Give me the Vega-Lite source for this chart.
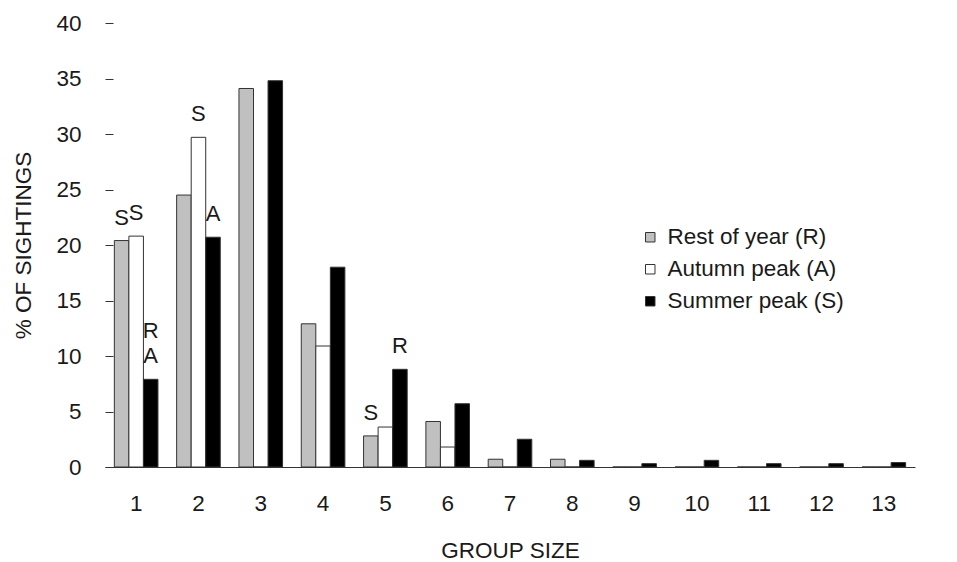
{
  "$schema": "https://vega.github.io/schema/vega-lite/v6.json",
  "autosize": {"type": "none"},
  "padding": {"left": 105, "top": 23, "right": 42, "bottom": 95},
  "width": 810,
  "height": 444,
  "background": "white",
  "config": {
    "view": {"stroke": null},
    "font": "Liberation Sans",
    "axis": {"grid": false, "labelFont": "Liberation Sans", "titleFont": "Liberation Sans", "labelColor": "#1a1a1a", "titleColor": "#1a1a1a", "titleFontWeight": "normal", "labelFontSize": 22.5, "titleFontSize": 22.5},
    "legend": {"labelFont": "Liberation Sans", "labelFontSize": 22.5, "labelColor": "#1a1a1a", "labelLimit": 0}
  },
  "datasets": {
    "bars": [
      {"group": "1", "series": "Rest of year (R)", "pct": 20.4},
      {"group": "1", "series": "Autumn peak (A)", "pct": 20.8},
      {"group": "1", "series": "Summer peak (S)", "pct": 7.9},
      {"group": "2", "series": "Rest of year (R)", "pct": 24.5},
      {"group": "2", "series": "Autumn peak (A)", "pct": 29.7},
      {"group": "2", "series": "Summer peak (S)", "pct": 20.7},
      {"group": "3", "series": "Rest of year (R)", "pct": 34.1},
      {"group": "3", "series": "Autumn peak (A)", "pct": 0},
      {"group": "3", "series": "Summer peak (S)", "pct": 34.8},
      {"group": "4", "series": "Rest of year (R)", "pct": 12.9},
      {"group": "4", "series": "Autumn peak (A)", "pct": 10.9},
      {"group": "4", "series": "Summer peak (S)", "pct": 18.0},
      {"group": "5", "series": "Rest of year (R)", "pct": 2.8},
      {"group": "5", "series": "Autumn peak (A)", "pct": 3.6},
      {"group": "5", "series": "Summer peak (S)", "pct": 8.8},
      {"group": "6", "series": "Rest of year (R)", "pct": 4.1},
      {"group": "6", "series": "Autumn peak (A)", "pct": 1.8},
      {"group": "6", "series": "Summer peak (S)", "pct": 5.7},
      {"group": "7", "series": "Rest of year (R)", "pct": 0.7},
      {"group": "7", "series": "Autumn peak (A)", "pct": 0},
      {"group": "7", "series": "Summer peak (S)", "pct": 2.5},
      {"group": "8", "series": "Rest of year (R)", "pct": 0.7},
      {"group": "8", "series": "Autumn peak (A)", "pct": 0},
      {"group": "8", "series": "Summer peak (S)", "pct": 0.6},
      {"group": "9", "series": "Rest of year (R)", "pct": 0},
      {"group": "9", "series": "Autumn peak (A)", "pct": 0},
      {"group": "9", "series": "Summer peak (S)", "pct": 0.3},
      {"group": "10", "series": "Rest of year (R)", "pct": 0},
      {"group": "10", "series": "Autumn peak (A)", "pct": 0},
      {"group": "10", "series": "Summer peak (S)", "pct": 0.6},
      {"group": "11", "series": "Rest of year (R)", "pct": 0},
      {"group": "11", "series": "Autumn peak (A)", "pct": 0},
      {"group": "11", "series": "Summer peak (S)", "pct": 0.3},
      {"group": "12", "series": "Rest of year (R)", "pct": 0},
      {"group": "12", "series": "Autumn peak (A)", "pct": 0},
      {"group": "12", "series": "Summer peak (S)", "pct": 0.3},
      {"group": "13", "series": "Rest of year (R)", "pct": 0},
      {"group": "13", "series": "Autumn peak (A)", "pct": 0},
      {"group": "13", "series": "Summer peak (S)", "pct": 0.4}
    ],
    "notes": [
      {"group": "1", "series": "Rest of year (R)", "pct": 20.4, "label": "S", "kind": "single"},
      {"group": "1", "series": "Autumn peak (A)", "pct": 20.8, "label": "S", "kind": "single"},
      {"group": "1", "series": "Summer peak (S)", "pct": 7.9, "label": "R\nA", "kind": "double"},
      {"group": "2", "series": "Autumn peak (A)", "pct": 29.7, "label": "S", "kind": "single"},
      {"group": "2", "series": "Summer peak (S)", "pct": 20.7, "label": "A", "kind": "single"},
      {"group": "5", "series": "Rest of year (R)", "pct": 2.8, "label": "S", "kind": "single"},
      {"group": "5", "series": "Summer peak (S)", "pct": 8.8, "label": "R", "kind": "single"}
    ]
  },
  "encoding": {
    "x": {
      "field": "group", "type": "nominal",
      "scale": {"domain": ["1","2","3","4","5","6","7","8","9","10","11","12","13"], "paddingInner": 0.3, "paddingOuter": 0.15},
      "axis": {"title": "GROUP SIZE", "labelAngle": 0, "ticks": false, "tickSize": 0, "labelPadding": 25, "titlePadding": 25, "domainColor": "#333", "domainWidth": 1.2}
    },
    "xOffset": {
      "field": "series", "type": "nominal",
      "scale": {"domain": ["Rest of year (R)", "Autumn peak (A)", "Summer peak (S)"], "paddingInner": 0, "paddingOuter": 0}
    },
    "y": {
      "field": "pct", "type": "quantitative",
      "scale": {"domain": [0, 40], "nice": false},
      "axis": {"title": "% OF SIGHTINGS", "values": [0,5,10,15,20,25,30,35,40], "domain": false, "tickSize": 8, "offset": -8, "tickColor": "#333", "labelPadding": 24, "titlePadding": 20}
    }
  },
  "layer": [
    {
      "data": {"name": "bars"},
      "mark": {"type": "bar", "stroke": "#333", "strokeWidth": 1},
      "encoding": {
        "color": {
          "field": "series", "type": "nominal",
          "scale": {"domain": ["Rest of year (R)", "Autumn peak (A)", "Summer peak (S)"], "range": ["#c0c0c0", "#ffffff", "#000000"]},
          "legend": {"title": null, "orient": "none", "legendX": 534, "legendY": 203, "symbolType": "square", "symbolSize": 90, "symbolStrokeColor": "#333", "symbolStrokeWidth": 1, "rowPadding": 9, "labelOffset": 6}
        }
      }
    },
    {
      "data": {"name": "notes"},
      "transform": [{"filter": "datum.kind === 'single'"}],
      "mark": {"type": "text", "fontSize": 22, "color": "#1a1a1a", "baseline": "middle", "dy": -23},
      "encoding": {"text": {"field": "label"}}
    },
    {
      "data": {"name": "notes"},
      "transform": [{"filter": "datum.kind === 'double'"}],
      "mark": {"type": "text", "fontSize": 22, "color": "#1a1a1a", "baseline": "bottom", "dy": -36, "lineBreak": "\n", "lineHeight": 25},
      "encoding": {"text": {"field": "label"}}
    }
  ]
}
